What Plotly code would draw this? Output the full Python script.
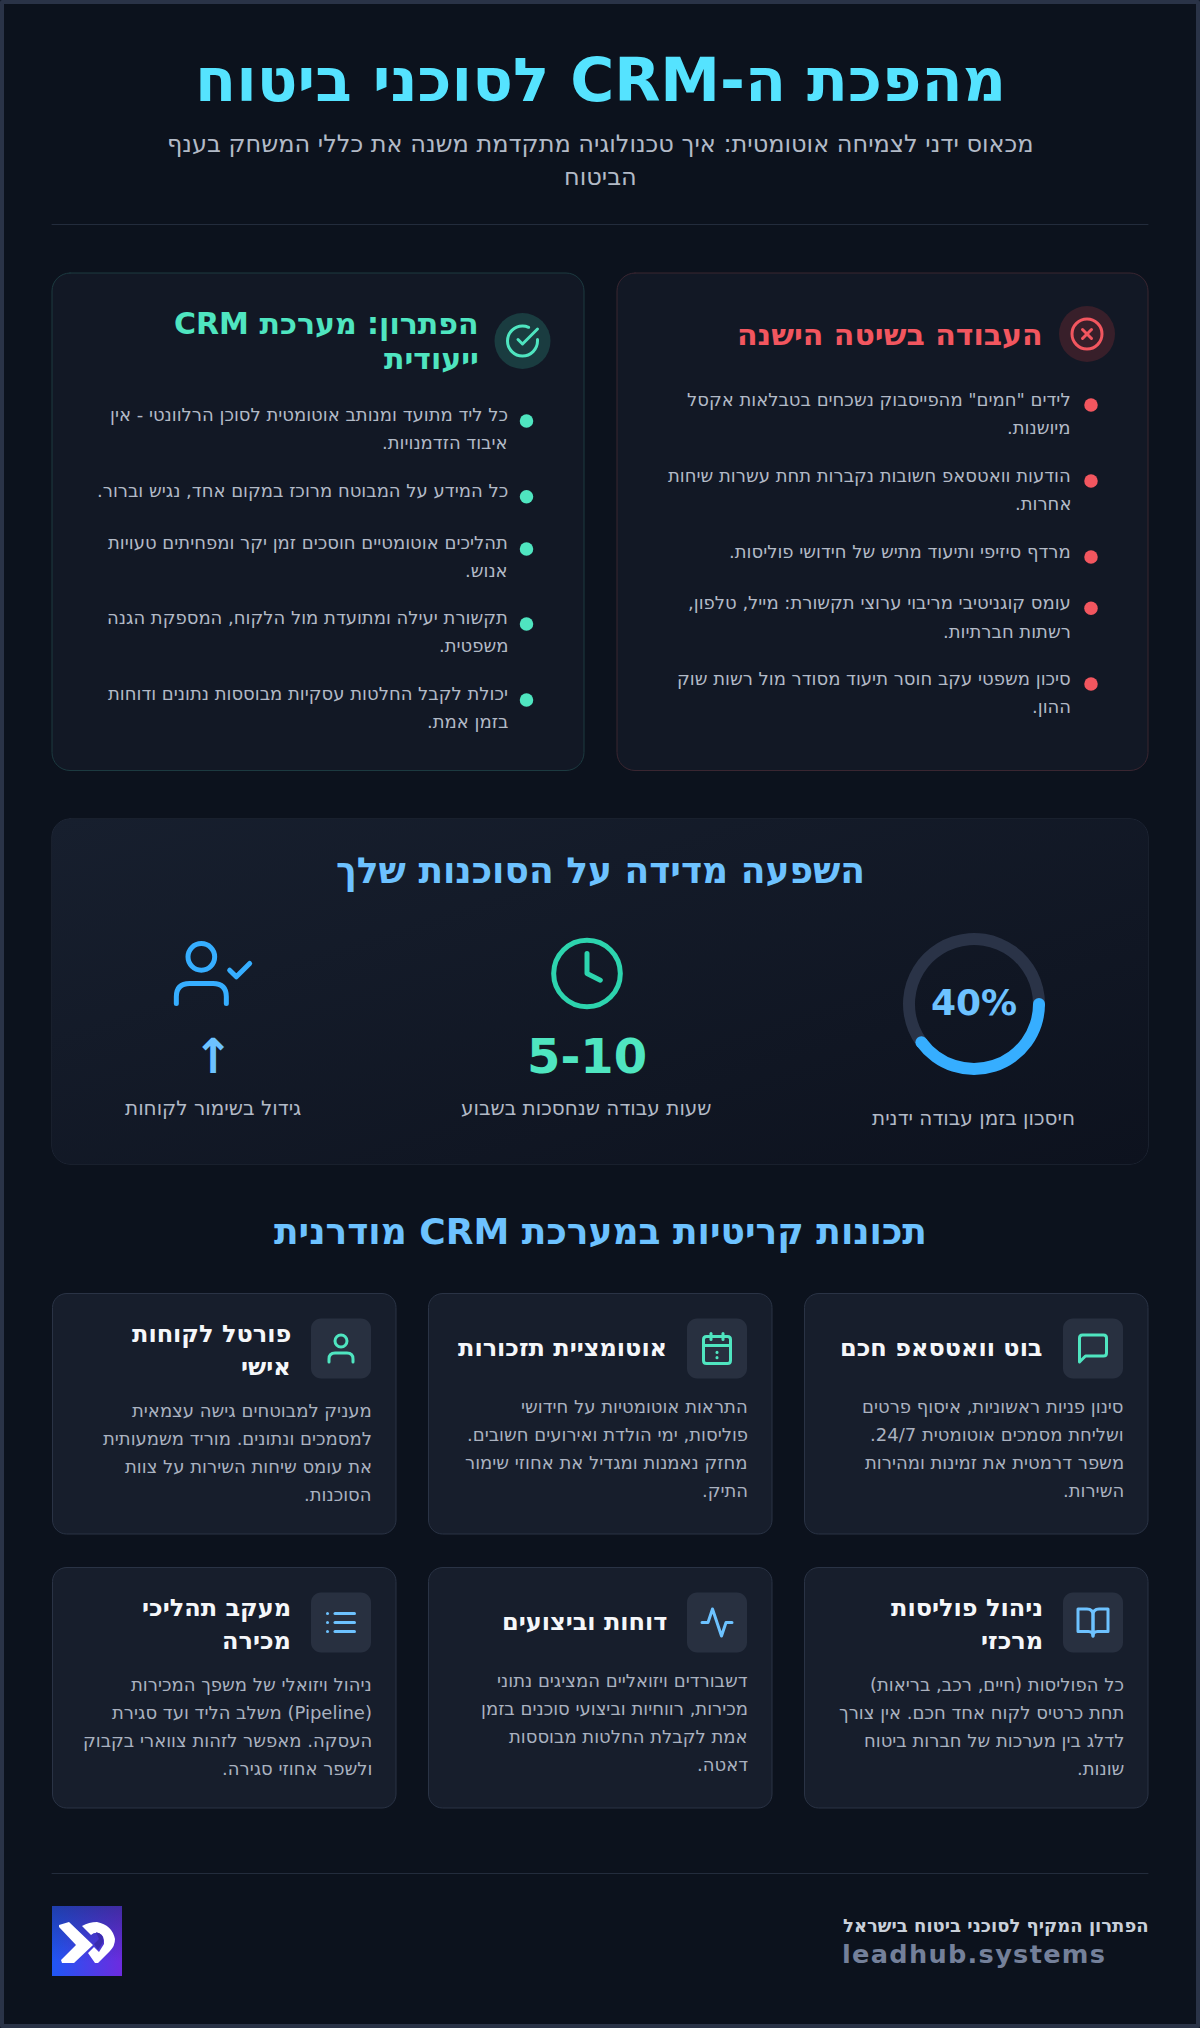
import base64, re, math
import plotly.graph_objects as go

# ---------- content ----------
TITLE = "מהפכת ה-CRM לסוכני ביטוח"
SUBTITLE_LINES = ["מכאוס ידני לצמיחה אוטומטית: איך טכנולוגיה מתקדמת משנה את כללי המשחק בענף", "הביטוח"]

OLD_TITLE = ["העבודה בשיטה הישנה"]
OLD_ITEMS = [
    ['לידים "חמים" מהפייסבוק נשכחים בטבלאות אקסל', "מיושנות."],
    ["הודעות וואטסאפ חשובות נקברות תחת עשרות שיחות", "אחרות."],
    ["מרדף סיזיפי ותיעוד מתיש של חידושי פוליסות."],
    ["עומס קוגניטיבי מריבוי ערוצי תקשורת: מייל, טלפון,", "רשתות חברתיות."],
    ["סיכון משפטי עקב חוסר תיעוד מסודר מול רשות שוק", "ההון."],
]
NEW_TITLE = ["הפתרון: מערכת CRM", "ייעודית"]
NEW_ITEMS = [
    ["כל ליד מתועד ומנותב אוטומטית לסוכן הרלוונטי - אין", "איבוד הזדמנויות."],
    ["כל המידע על המבוטח מרוכז במקום אחד, נגיש וברור."],
    ["תהליכים אוטומטיים חוסכים זמן יקר ומפחיתים טעויות", "אנוש."],
    ["תקשורת יעילה ומתועדת מול הלקוח, המספקת הגנה", "משפטית."],
    ["יכולת לקבל החלטות עסקיות מבוססות נתונים ודוחות", "בזמן אמת."],
]

IMPACT_TITLE = "השפעה מדידה על הסוכנות שלך"
SAVED_PERCENT = 40
SAVED_LABELS = ["חיסכון", "יתרה"]
IMPACT_VALUE_TEXT = ["40%", "5-10", "↑"]
IMPACT_LABELS = ["חיסכון בזמן עבודה ידנית", "שעות עבודה שנחסכות בשבוע", "גידול בשימור לקוחות"]

FEATURES_TITLE = "תכונות קריטיות במערכת CRM מודרנית"
FEATURE_TITLES = [
    [["בוט וואטסאפ חכם"], ["אוטומציית תזכורות"], ["פורטל לקוחות", "אישי"]],
    [["ניהול פוליסות", "מרכזי"], ["דוחות וביצועים"], ["מעקב תהליכי", "מכירה"]],
]
FEATURE_BODIES = [
    [
        ["סינון פניות ראשוניות, איסוף פרטים", "ושליחת מסמכים אוטומטית 24/7.", "משפר דרמטית את זמינות ומהירות", "השירות."],
        ["התראות אוטומטיות על חידושי", "פוליסות, ימי הולדת ואירועים חשובים.", "מחזק נאמנות ומגדיל את אחוזי שימור", "התיק."],
        ["מעניק למבוטחים גישה עצמאית", "למסמכים ונתונים. מוריד משמעותית", "את עומס שיחות השירות על צוות", "הסוכנות."],
    ],
    [
        ["כל הפוליסות (חיים, רכב, בריאות)", "תחת כרטיס לקוח אחד חכם. אין צורך", "לדלג בין מערכות של חברות ביטוח", "שונות."],
        ["דשבורדים ויזואליים המציגים נתוני", "מכירות, רווחיות וביצועי סוכנים בזמן", "אמת לקבלת החלטות מבוססות", "דאטה."],
        ["ניהול ויזואלי של משפך המכירות", "(Pipeline) משלב הליד ועד סגירת", "העסקה. מאפשר לזהות צווארי בקבוק", "ולשפר אחוזי סגירה."],
    ],
]
FOOTER_TAGLINE = "הפתרון המקיף לסוכני ביטוח בישראל"
FOOTER_SITE = "leadhub.systems"

# ---------- style ----------
FONT = "DejaVu Sans"
BG = "#0c121d"
EDGE = "#2a3347"
CYAN = "#55e3ff"
SKY = "#6dc2ff"
BLUE = "#36aeff"
TEAL = "#4fe5c0"
TEAL2 = "#2dd4ae"
RED = "#f2565f"
MUTED = "#b2bac7"
MUTED2 = "#aab2c0"
WHITE = "#f5f7fa"

shapes, annotations, images = [], [], []


def rtl(s):
    return "\u202b" + s + "\u202c"


def text(x, y, s, size, color, bold=False, anchor="right", is_rtl=True):
    # annotation boxes carry a small inner padding; compensate so glyph edges land on x
    pad = {"right": 3, "left": -3, "center": 0}[anchor]
    annotations.append(dict(
        x=x + pad, y=y, xref="x", yref="y", text=rtl(s) if is_rtl else s, showarrow=False,
        xanchor=anchor, yanchor="middle", align=anchor,
        font=dict(family=FONT, size=size, color=color, weight=700 if bold else 400),
    ))


def rrect_path(x0, y0, x1, y1, r):
    k = r * 0.4477
    return (f"M{x0+r},{y0} L{x1-r},{y0} C{x1-k},{y0} {x1},{y0+k} {x1},{y0+r} "
            f"L{x1},{y1-r} C{x1},{y1-k} {x1-k},{y1} {x1-r},{y1} "
            f"L{x0+r},{y1} C{x0+k},{y1} {x0},{y1-k} {x0},{y1-r} "
            f"L{x0},{y0+r} C{x0},{y0+k} {x0+k},{y0} {x0+r},{y0} Z")


def rrect(x0, y0, x1, y1, r, fill, line=None, lw=1, layer="below"):
    shapes.append(dict(type="path", path=rrect_path(x0, y0, x1, y1, r), fillcolor=fill,
                       line=dict(color=line or "rgba(0,0,0,0)", width=lw if line else 0), layer=layer))


def circle(cx, cy, r, fill="rgba(0,0,0,0)", line=None, lw=0, layer="above"):
    shapes.append(dict(type="circle", x0=cx-r, x1=cx+r, y0=cy-r, y1=cy+r, fillcolor=fill,
                       line=dict(color=line or "rgba(0,0,0,0)", width=lw), layer=layer))


def hline(x0, x1, y, color):
    shapes.append(dict(type="line", x0=x0, x1=x1, y0=y, y1=y, line=dict(color=color, width=1), layer="below"))


def vline(x, y0, y1, color):
    shapes.append(dict(type="line", x0=x, x1=x, y0=y0, y1=y1, line=dict(color=color, width=1), layer="below"))


def icon_path(d, x0, y0, k):
    """Scale an absolute-coordinate icon path into page pixels."""
    vals = iter(re.findall(r"[A-Z]|-?\d+\.?\d*", d))
    out, is_x = [], True
    for tok in vals:
        if tok.isalpha():
            out.append(tok)
            is_x = True
        else:
            v = float(tok)
            out.append(f"{(x0 + v * k) if is_x else (y0 + v * k):.2f}")
            is_x = not is_x
    res, i = "", 0
    while i < len(out):
        if out[i].isalpha():
            res += out[i]
            i += 1
        else:
            res += f"{out[i]},{out[i+1]} "
            i += 2
    return res


ICONS = {
    "check": ["M22 11.08 L22 12 C22 17.5 17.5 22 12 22 C6.5 22 2 17.5 2 12 C2 6.5 6.5 2 12 2 C13.4 2 14.8 2.3 16.07 2.86",
              "M22 4 L12 14.01 L9 11.01"],
    "xcircle": ["M15 9 L9 15", "M9 9 L15 15", "CIRCLE 12 12 10"],
    "clock": ["M12 6 L12 12 L16 14", "CIRCLE 12 12 10"],
    "usercheck": ["M16 21 L16 19 Q16 15 12 15 L5 15 Q1 15 1 19 L1 21", "M17 11 L19 13 L23 9", "CIRCLE 8.5 7 4"],
    "message": ["M21 15 Q21 17 19 17 L7 17 L3 21 L3 5 Q3 3 5 3 L19 3 Q21 3 21 5 Z"],
    "calendar": ["M8 2 L8 6", "M16 2 L16 6", "M3 10 L21 10", "M5 4 L19 4 Q21 4 21 6 L21 20 Q21 22 19 22 L5 22 Q3 22 3 20 L3 6 Q3 4 5 4 Z",
                 "M12 14.5 L12 14.6", "M12 18 L12 18.1"],
    "user": ["M20 21 L20 19 Q20 15 16 15 L8 15 Q4 15 4 19 L4 21", "CIRCLE 12 7 4"],
    "book": ["M2 3 L8 3 Q12 3 12 7 L12 21 Q12 18 9 18 L2 18 Z", "M22 3 L16 3 Q12 3 12 7 L12 21 Q12 18 15 18 L22 18 Z"],
    "activity": ["M22 12 L18 12 L15 21 L9 3 L6 12 L2 12"],
    "list": ["M8 6 L21 6", "M8 12 L21 12", "M8 18 L21 18", "M3 6 L3.01 6", "M3 12 L3.01 12", "M3 18 L3.01 18"],
}


def icon(name, x0, y0, size, color, sw):
    k = size / 24
    lw = sw * k
    for d in ICONS[name]:
        if d.startswith("CIRCLE"):
            _, cx, cy, r = d.split()
            circle(x0 + float(cx) * k, y0 + float(cy) * k, float(r) * k, line=color, lw=lw)
        else:
            shapes.append(dict(type="path", path=icon_path(d, x0, y0, k), line=dict(color=color, width=lw),
                               fillcolor="rgba(0,0,0,0)", layer="above"))


def svg_image(svg, x, y, w, h):
    src = "data:image/svg+xml;base64," + base64.b64encode(svg.encode()).decode()
    images.append(dict(source=src, xref="x", yref="y", x=x, y=y, sizex=w, sizey=h, sizing="stretch",
                       xanchor="left", yanchor="top", layer="below"))


# ---------- frame and header ----------
shapes.append(dict(type="rect", x0=2, y0=2, x1=1198, y1=2026, line=dict(color=EDGE, width=4),
                   fillcolor="rgba(0,0,0,0)", layer="below"))
text(600, 80, TITLE, 60, CYAN, bold=True, anchor="center")
text(600, 143.5, SUBTITLE_LINES[0], 24, MUTED, anchor="center")
text(600, 176.5, SUBTITLE_LINES[1], 24, MUTED, anchor="center")
hline(52, 1148, 224.5, "#232c3c")

# ---------- comparison cards ----------
dot_x, dot_y, dot_c = [], [], []


def compare_card(x0, x1, border, color, tint, icon_name, icon_c, title_lines, title_right, title_ys,
                 items, item_ys, text_right, dot_cx, dot_off):
    rrect(x0, 273, x1, 770.5, 18, "#121825", border)
    circle(icon_c[0], icon_c[1], 28, fill=tint, layer="below")
    icon(icon_name, icon_c[0] - 18, icon_c[1] - 18, 36, color, 2)
    for s, y in zip(title_lines, title_ys):
        text(title_right, y, s, 30, color, bold=True)
    for lines, y in zip(items, item_ys):
        dot_x.append(dot_cx)
        dot_y.append(y + dot_off)
        dot_c.append(color)
        for j, s in enumerate(lines):
            text(text_right, y + 28.4 * j, s, 18, MUTED)


compare_card(617, 1148, "#3a2631", RED, "#381f2a", "xcircle", (1087, 334), OLD_TITLE, 1042, [334],
             OLD_ITEMS, [399.5, 475.5, 551.5, 602.8, 678.5], 1070, 1091, 5.5)
compare_card(52, 584, "#1c3a40", TEAL, "#1a3c40", "check", (522.5, 341), NEW_TITLE, 478, [323, 358.5],
             NEW_ITEMS, [414.5, 490.3, 542.5, 617.5, 693.5], 507, 526.5, 6.5)

# ---------- impact panel ----------
svg_image('<svg xmlns="http://www.w3.org/2000/svg" width="1096" height="345"><defs><linearGradient id="g" x1="0" y1="0" x2="1" y2="1">'
          '<stop offset="0" stop-color="#171f2e"/><stop offset="1" stop-color="#0d121e"/></linearGradient></defs>'
          '<rect x="0" y="0" width="1096" height="345" rx="18" fill="url(#g)"/></svg>', 52, 819, 1096, 345)
rrect(52, 819, 1148, 1164, 18, "rgba(0,0,0,0)", "#262e3f")
text(600, 871, IMPACT_TITLE, 36, SKY, bold=True, anchor="center")
vline(381, 963, 1092, "#1f2736")
vline(791, 963, 1092, "#1f2736")

# donut (drawn by a pie trace from SAVED_PERCENT), with rounded ends on the arc
DON_X, DON_Y, DON_R, DON_W = 974, 1004, 71, 12
pie = go.Pie(values=[SAVED_PERCENT, 100 - SAVED_PERCENT], labels=SAVED_LABELS, sort=False, direction="clockwise", rotation=90,
             hole=(DON_R - DON_W) / DON_R, textinfo="none", hoverinfo="skip", showlegend=False,
             marker=dict(colors=[BLUE, EDGE], line=dict(width=0)),
             domain=dict(x=[(DON_X - DON_R) / 1200, (DON_X + DON_R) / 1200],
                         y=[1 - (DON_Y + DON_R) / 2028, 1 - (DON_Y - DON_R) / 2028]))
for a in (0, SAVED_PERCENT * 3.6):
    rad = math.radians(a)
    circle(DON_X + (DON_R - DON_W / 2) * math.cos(rad), DON_Y + (DON_R - DON_W / 2) * math.sin(rad), DON_W / 2, fill=BLUE)
text(974, 1002, IMPACT_VALUE_TEXT[0], 36, SKY, bold=True, anchor="center", is_rtl=False)
text(973.5, 1118, IMPACT_LABELS[0], 20, MUTED, anchor="center")

icon("clock", 547, 933.5, 80, TEAL2, 1.5)
text(586.5, 1056, IMPACT_VALUE_TEXT[1], 48, TEAL, bold=True, anchor="center", is_rtl=False)
text(586.5, 1107.5, IMPACT_LABELS[1], 20, MUTED, anchor="center")

icon("usercheck", 173, 933.5, 80, BLUE, 1.5)
text(213, 1056, IMPACT_VALUE_TEXT[2], 48, SKY, bold=True, anchor="center", is_rtl=False)
text(213, 1107.5, IMPACT_LABELS[2], 20, MUTED, anchor="center")

# ---------- feature grid ----------
text(600, 1232, FEATURES_TITLE, 36, SKY, bold=True, anchor="center")
COL_LEFT = [804, 428, 52]
ROW_TOP = [1293.5, 1567.5]
ICON_NAMES = [["message", "calendar", "user"], ["book", "activity", "list"]]
ICON_COLORS = [[TEAL, TEAL, TEAL], [SKY, SKY, SKY]]
for r, top in enumerate(ROW_TOP):
    for c, left in enumerate(COL_LEFT):
        right = left + 344
        rrect(left + 0.5, top, right, top + 240.5, 14, "#171e2c", "#2a3345")
        rrect(right - 85, top + 25, right - 25, top + 85, 10, "#283040")
        icon(ICON_NAMES[r][c], right - 73, top + 37, 36, ICON_COLORS[r][c], 2)
        tl = FEATURE_TITLES[r][c]
        if len(tl) == 2:
            text(right - 106, top + 40, tl[0], 24, WHITE, bold=True)
            text(right - 106, top + 73.5, tl[1], 24, WHITE, bold=True)
            by = top + 117
        else:
            text(right - 106, top + 54.5, tl[0], 24, WHITE, bold=True)
            by = top + 113
        for j, s in enumerate(FEATURE_BODIES[r][c]):
            text(right - 25, by + 28 * j, s, 18, MUTED2)

# ---------- footer ----------
hline(52, 1148, 1873.5, "#232c3c")
text(1148, 1925, FOOTER_TAGLINE, 18, "#c9d0da", bold=True)
text(843, 1954, FOOTER_SITE, 25.6, "#74809a", bold=True, anchor="left", is_rtl=False)
svg_image('<svg xmlns="http://www.w3.org/2000/svg" width="70" height="70"><defs>'
          '<linearGradient id="a" x1="0" y1="1" x2="1" y2="1"><stop offset="0" stop-color="#1f57f5"/><stop offset="1" stop-color="#6d2bdf"/></linearGradient>'
          '<linearGradient id="b" x1="0" y1="0" x2="0" y2="1"><stop offset="0" stop-color="#1d2a70" stop-opacity=".55"/><stop offset=".8" stop-color="#1d2a70" stop-opacity="0"/></linearGradient>'
          '</defs><rect width="70" height="70" fill="url(#a)"/><rect width="70" height="70" fill="url(#b)"/></svg>', 52, 1906, 70, 70)
LX, LY = 52, 1906
logo_mark = [
    ("M7 19 L17 16 L41 39 L22 57 L10 57 L9 54 L24 39 L7 21 Z", "#ffffff"),
    ("M30 20 Q37 16 45 16 Q60 19 63 33 Q63 40 58 45 L46 57 L43 57 L36 47 L42 41 L47 46 L52 38 Q53 30 47 27 Q42 26 39 29 Z", "#ffffff"),
    ("M44 26 Q52 28 51 36 L46 44 L42 38 L47 33 Z", "#3a2bae"),
]
for d, col in logo_mark:
    shapes.append(dict(type="path", path=icon_path(d, LX, LY, 1), fillcolor=col, line=dict(width=0), layer="above"))

# ---------- figure ----------
dots = go.Scatter(x=dot_x, y=dot_y, mode="markers", hoverinfo="skip", showlegend=False,
                  marker=dict(size=13.5, color=dot_c, line=dict(width=0)))
fig = go.Figure([dots, pie])
axis = dict(visible=False, fixedrange=True, showgrid=False, zeroline=False)
fig.update_layout(
    width=1200, height=2028, margin=dict(l=0, r=0, t=0, b=0), autosize=False,
    paper_bgcolor=BG, plot_bgcolor="rgba(0,0,0,0)", showlegend=False,
    xaxis=dict(range=[0, 1200], **axis), yaxis=dict(range=[2028, 0], **axis),
    shapes=shapes, annotations=annotations, images=images,
)
POST = """
document.body.style.margin='0';
document.body.style.background='#0c121d';
document.querySelectorAll('.shapelayer path').forEach(function(p){p.style.strokeLinecap='round';p.style.strokeLinejoin='round';});
document.querySelectorAll('.annotation-text').forEach(function(t){ if(t.textContent==='leadhub.systems'){t.style.letterSpacing='1.3px';} });
"""
fig.write_html("out.html", config={"displayModeBar": False, "staticPlot": True}, post_script=POST)
